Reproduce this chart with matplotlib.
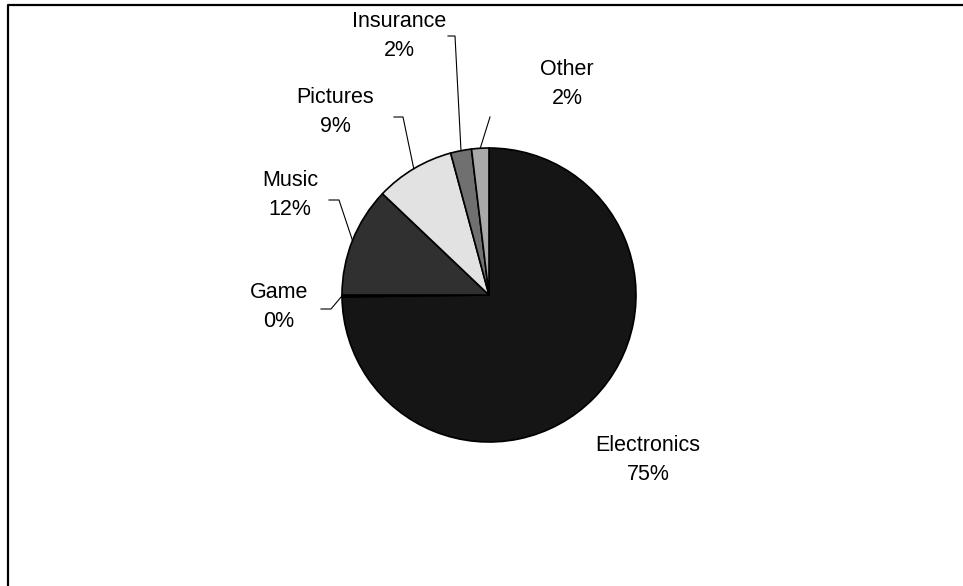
import numpy as np
import matplotlib
matplotlib.use('Agg')
import matplotlib.pyplot as plt
from matplotlib.lines import Line2D

plt.rcParams['font.family'] = ['Liberation Sans', 'DejaVu Sans']

# Data (share of sales, %)
categories = ['Electronics', 'Game', 'Music', 'Pictures', 'Insurance', 'Other']
shares = [74.8, 0.2, 12.1, 8.7, 2.3, 1.9]
colors = ['#151515', '#000000', '#303030', '#e2e2e2', '#707070', '#a9a9a9']

# Label placement in pixels (x, y from top) and leader elbow points
label_pos = {
    'Electronics': (648, 460),
    'Game': (279, 307),
    'Music': (290, 195),
    'Pictures': (335, 112),
    'Insurance': (399, 36),
    'Other': (567, 84),
}
leaders = {
    'Game': [(331, 309), (321, 309)],
    'Music': [(339, 200), (329, 200)],
    'Pictures': [(403, 117), (394, 117)],
    'Insurance': [(455, 36), (448, 36)],
    'Other': [(490, 117)],
}

W, H = 963, 586
cx, cy, R = 489, 295, 147

fig = plt.figure(figsize=(W / 100, H / 100), dpi=100)
ax = fig.add_axes([0, 0, 1, 1])


def to_data(p):
    return ((p[0] - cx) / R, (cy - p[1]) / R)


wedges, _ = ax.pie(shares, colors=colors, startangle=90, counterclock=False,
                   wedgeprops=dict(edgecolor='black', linewidth=1.2))
ax.set_xlim(-cx / R, (W - cx) / R)
ax.set_ylim((cy - H) / R, cy / R)
ax.set_aspect('auto')
ax.axis('off')

total = sum(shares)
for name, val, w in zip(categories, shares, wedges):
    pct = round(val / total * 100)
    lx, ly = to_data(label_pos[name])
    ax.text(lx, ly, f'{name}\n{pct}%', ha='center', va='center',
            fontsize=15.5, linespacing=1.48)
    if name in leaders:
        ang = np.deg2rad((w.theta1 + w.theta2) / 2)
        pts = [(np.cos(ang), np.sin(ang))] + [to_data(p) for p in leaders[name]]
        xs, ys = zip(*pts)
        ax.plot(xs, ys, color='black', linewidth=0.8)

# chart area border (runs off the right and bottom edges)
fig.add_artist(Line2D([7.5 / W, 7.5 / W, 1.0], [0.0, 1 - 4.5 / H, 1 - 4.5 / H],
                      transform=fig.transFigure, color='black', linewidth=1.6))

fig.savefig('out.png', dpi=100)
